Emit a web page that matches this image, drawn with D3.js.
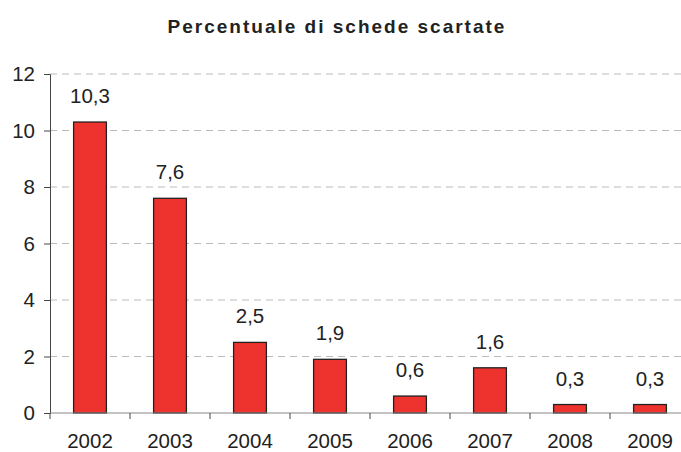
<!DOCTYPE html>
<html>
  <head>
    <meta charset="UTF-8" />
    <title>Percentuale di schede scartate</title>
    <style>
      body { margin: 0; background: #fff; }
      svg { display: block; font-family: "Liberation Sans", Arial, sans-serif; }
    </style>
  </head>
  <body>
    <svg></svg>
    <script src="https://d3js.org/d3.v7.min.js"></script>
    <script>
      // data
      var years = ["2002", "2003", "2004", "2005", "2006", "2007", "2008", "2009"];
      var values = [10.3, 7.6, 2.5, 1.9, 0.6, 1.6, 0.3, 0.3];
      var yTicks = [0, 2, 4, 6, 8, 10, 12];

      var width = 681, height = 452;
      var svg = d3.select("svg").attr("width", width).attr("height", height);

      var x = d3.scaleBand().domain(years).range([50, 690]).paddingInner(0.59).paddingOuter(0.295);
      var y = d3.scaleLinear().domain([0, 12]).range([413, 74]);

      // title
      svg.append("text")
        .attr("x", 337).attr("y", 33)
        .attr("text-anchor", "middle")
        .style("font-size", "19px").style("font-weight", "bold")
        .style("letter-spacing", "2px")
        .attr("fill", "#222")
        .text("Percentuale di schede scartate");

      // gridlines
      svg.append("g").selectAll("line")
        .data(yTicks.filter(d => d > 0))
        .enter().append("line")
        .attr("x1", 50).attr("x2", 690)
        .attr("y1", d => y(d)).attr("y2", d => y(d))
        .attr("stroke", "#bbb").attr("stroke-dasharray", "7,5");

      // bars
      svg.append("g").selectAll("rect")
        .data(values)
        .enter().append("rect")
        .attr("x", (d, i) => x(years[i]))
        .attr("y", d => y(d))
        .attr("width", x.bandwidth())
        .attr("height", d => y(0) - y(d))
        .attr("fill", "#ee322d").attr("stroke", "#222").attr("stroke-width", 1.3);

      // value labels
      svg.append("g").selectAll("text")
        .data(values)
        .enter().append("text")
        .attr("x", (d, i) => x(years[i]) + x.bandwidth() / 2)
        .attr("y", d => y(d) - 19)
        .attr("text-anchor", "middle")
        .style("font-size", "20.5px").attr("fill", "#222")
        .text(d => String(d).replace(".", ","));

      // y axis
      var yAxis = svg.append("g").attr("transform", "translate(50,0)")
        .call(d3.axisLeft(y).tickValues(yTicks).tickSize(6).tickPadding(9));
      yAxis.select(".domain").attr("stroke", "#444");
      yAxis.selectAll(".tick line").attr("stroke", "#444");
      yAxis.selectAll("text").style("font-size", "20.5px").attr("fill", "#222")
        .style("font-family", "Liberation Sans, Arial, sans-serif");

      // x axis
      var xAxis = svg.append("g").attr("transform", "translate(0," + y(0) + ")")
        .call(d3.axisBottom(x).tickSize(0).tickPadding(20));
      xAxis.select(".domain").attr("stroke", "#888").attr("d", "M50,0H690");
      xAxis.selectAll("text").style("font-size", "20.5px").attr("fill", "#222")
        .style("font-family", "Liberation Sans, Arial, sans-serif");
      // ticks between categories
      xAxis.append("g").selectAll("line")
        .data(years)
        .enter().append("line")
        .attr("x1", d => x(d) - x.step() * x.paddingInner() / 2)
        .attr("x2", d => x(d) - x.step() * x.paddingInner() / 2)
        .attr("y1", 0).attr("y2", 6)
        .attr("stroke", "#444");
    </script>
  </body>
</html>
